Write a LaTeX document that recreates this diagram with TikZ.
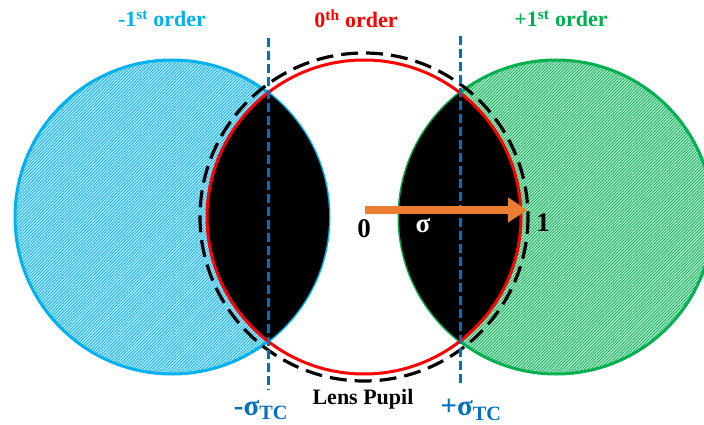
\documentclass[tikz,border=0pt]{standalone}
\usepackage{fontspec}
\setmainfont{Liberation Serif}
\usetikzlibrary{arrows.meta,patterns.meta}
\definecolor{cMinus}{RGB}{0,176,240}
\definecolor{cZero}{RGB}{255,0,0}
\definecolor{cPlus}{RGB}{0,176,80}
\definecolor{cSigma}{RGB}{0,112,192}
\definecolor{cArrow}{RGB}{237,125,49}

\begin{document}
\begin{tikzpicture}[x=1pt, y=-1pt,
      font=\bfseries\fontsize{22}{24}\selectfont,
      order/.style={line width=3pt, draw=#1, pattern color=#1,
                    preaction={fill=#1!30},
                    pattern={Lines[angle=45, distance=2.2pt, line width=0.7pt]}},
      pupil/.style={line width=3pt},
      tcline/.style={cSigma, line width=3pt, dash pattern=on 9pt off 4pt},
      lbl/.style={inner sep=0pt},
      big/.style={font=\bfseries\fontsize{27}{29}\selectfont},
    ]
    \useasboundingbox (0,0) rectangle (704,425);
    \coordinate (cm) at (172,217);
    \coordinate (c0) at (364,217);
    \coordinate (cp) at (556,217);
    % diffraction orders
    \draw[order=cMinus] (cm) circle[radius=157];
    \draw[order=cPlus] (cp) circle[radius=157];
    \begin{scope}
      \clip (c0) circle[radius=157];
      \fill (cm) circle[radius=157];
      \fill (cp) circle[radius=157];
    \end{scope}
    \draw[pupil, cZero] (c0) circle[radius=157];
    \draw[pupil, line width=3.2pt, dash pattern=on 17pt off 8pt] (c0) circle[radius=164];
    % sigma_TC lines
    \coordinate (tcmtop) at (268,38);
    \coordinate (tcmbot) at (268,390);
    \coordinate (tcptop) at (460,36);
    \coordinate (tcpbot) at (460,386);
    \draw[tcline] (tcmtop) -- (tcmbot);
    \draw[tcline] (tcptop) -- (tcpbot);
    % sigma arrow
    \coordinate (o) at (365,210);
    \coordinate (rim) at (527,210);
    \draw[cArrow, line width=8pt, -{Triangle[length=19pt, width=24pt]}] (o) -- (rim);
    \node[lbl, text=cMinus] (lm) at (162,19) {-1\textsuperscript{st} order};
    \node[lbl, text=cZero] (l0) at (356,19) {0\textsuperscript{th} order};
    \node[lbl, text=cPlus] (lp) at (561,19) {+1\textsuperscript{st} order};
    \node[lbl, big] (zero) at (364,229) {0};
    \node[lbl, big, text=white] (sig) at (423,226) {σ};
    \node[lbl, big] (one) at (543,223) {1};
    \node[lbl, font=\bfseries\fontsize{22}{24}\selectfont] (pupil) at (363,399) {Lens Pupil};
    \node[lbl, text=cSigma, font=\bfseries\fontsize{29}{31}\selectfont] (tcm) at (261,410) {-σ\textsubscript{TC}};
    \node[lbl, text=cSigma, font=\bfseries\fontsize{29}{31}\selectfont] (tcp) at (471,410) {+σ\textsubscript{TC}};
  \end{tikzpicture}
\end{document}
